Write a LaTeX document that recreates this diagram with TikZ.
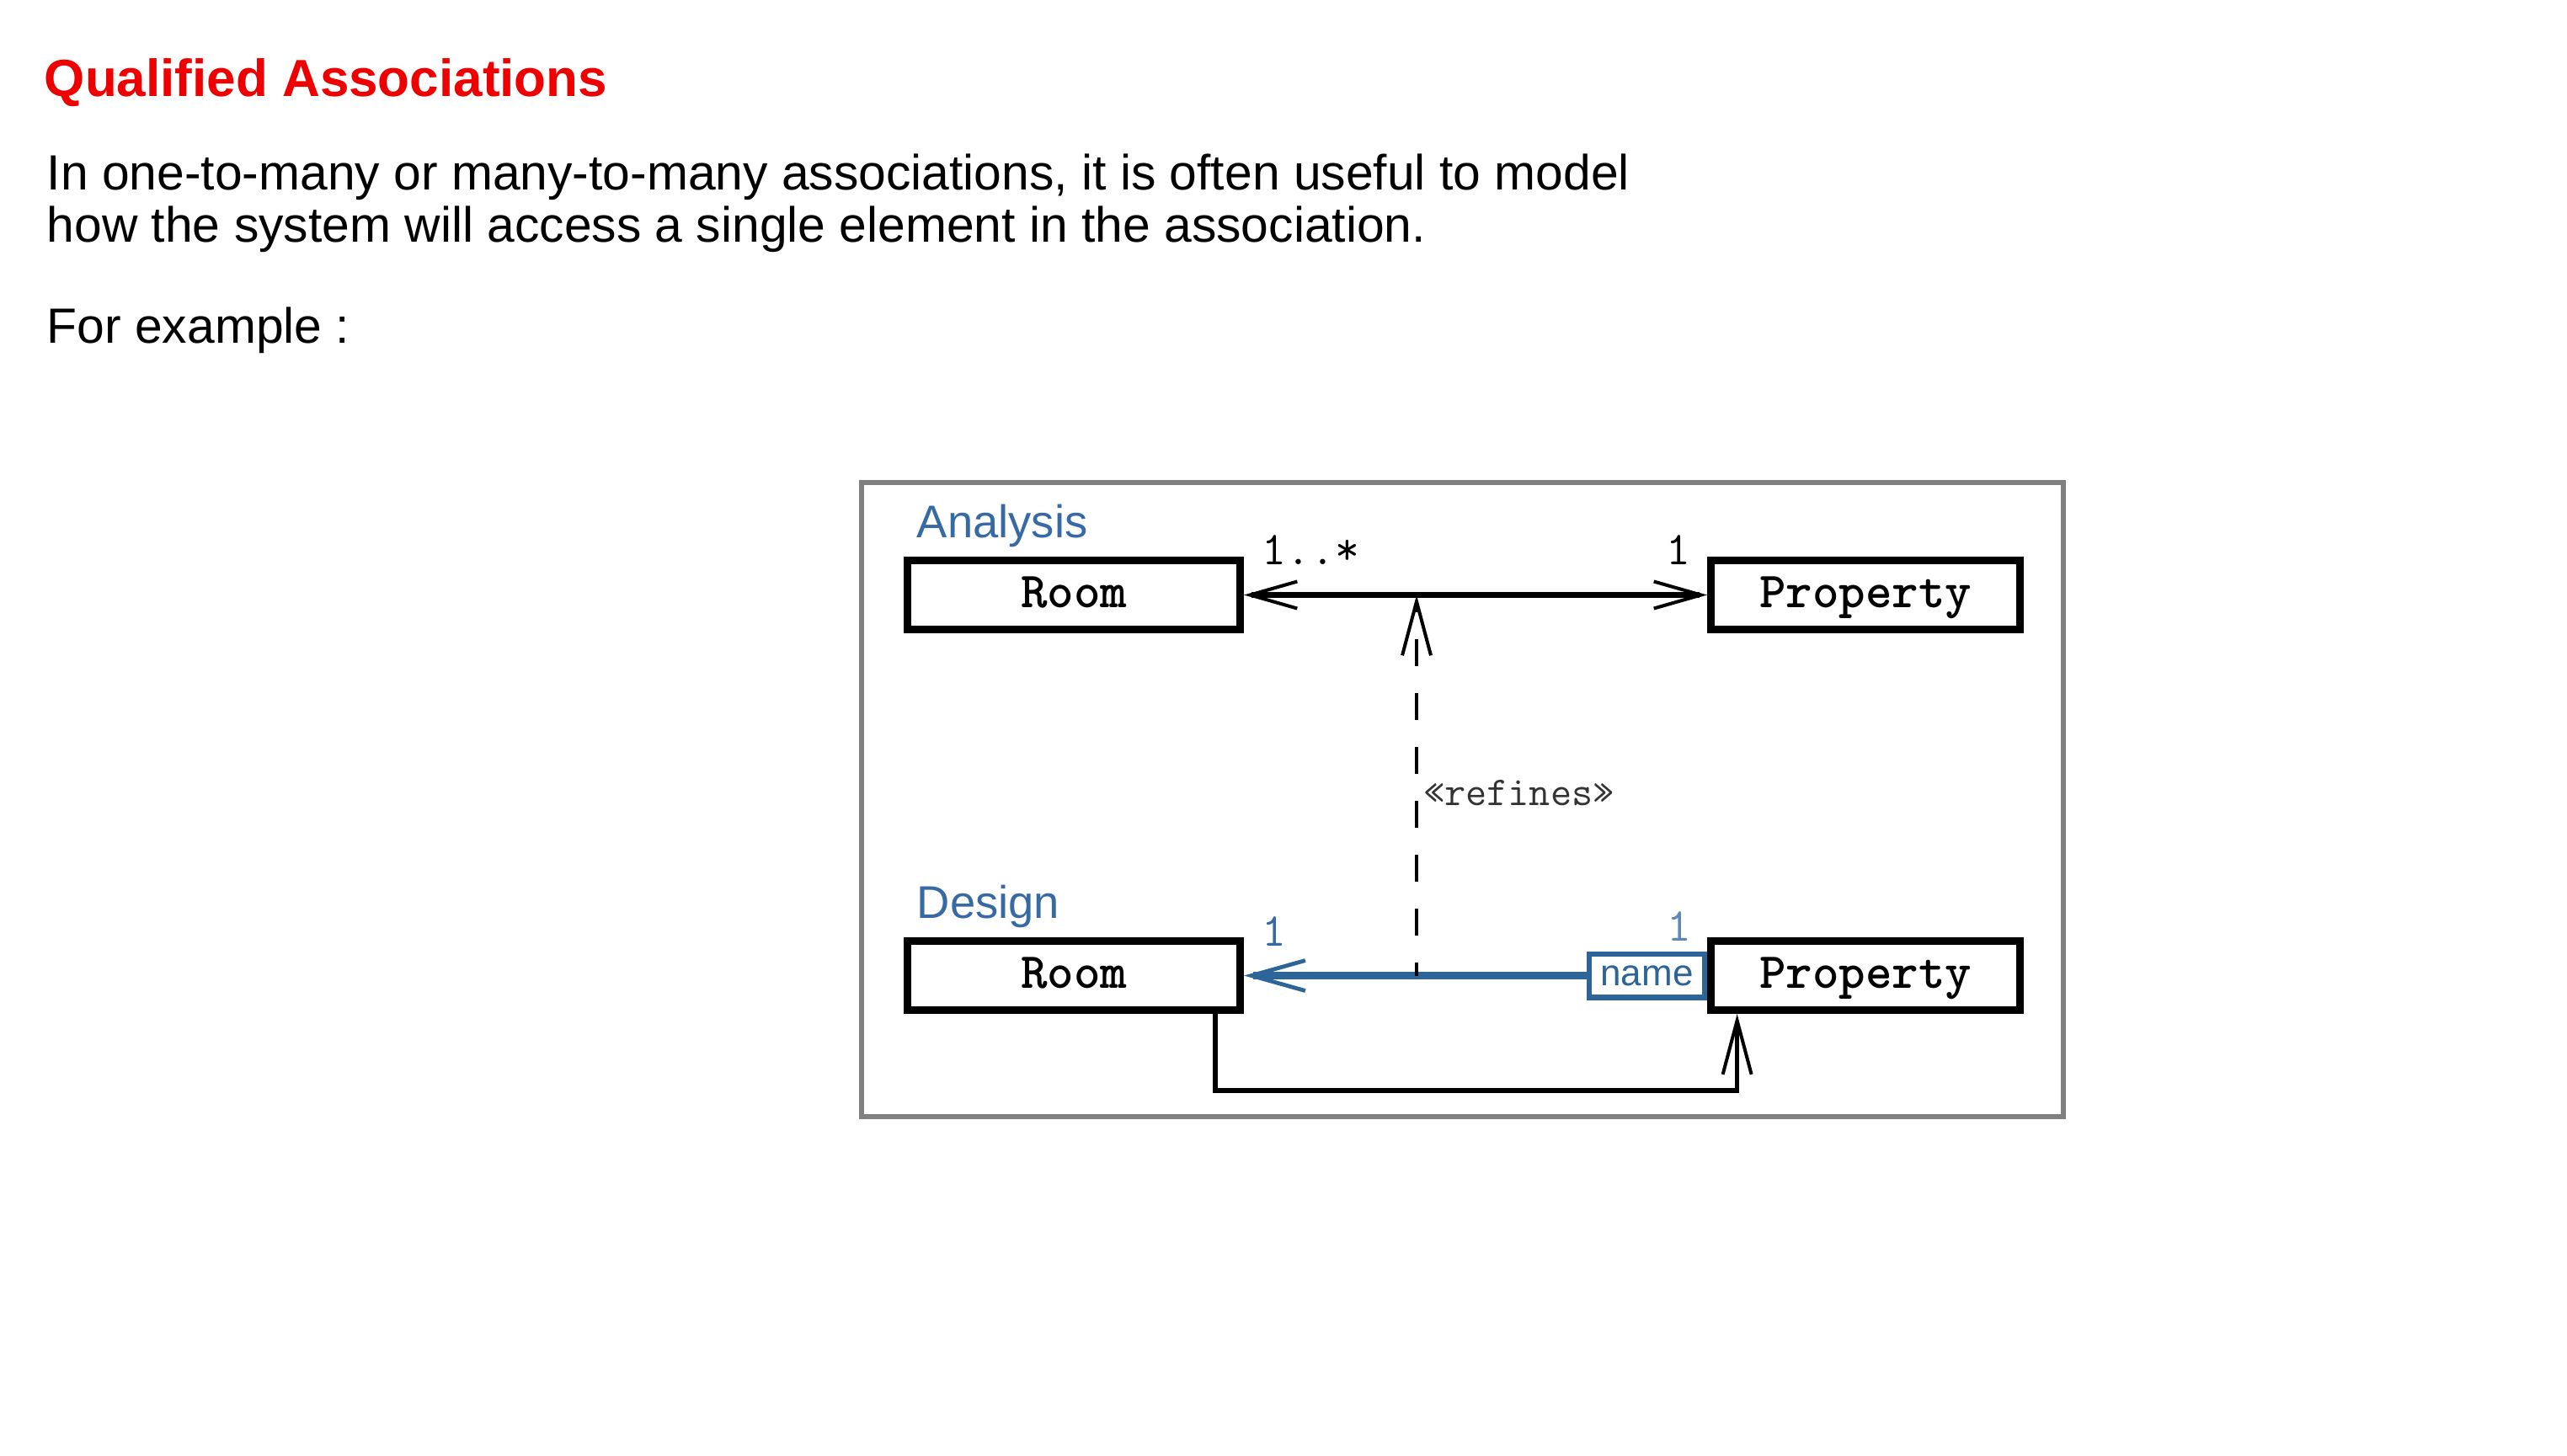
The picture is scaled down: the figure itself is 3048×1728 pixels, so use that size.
\documentclass[tikz,border=0pt]{standalone}
\usepackage{fontspec}
\setmainfont{Liberation Sans}
\usetikzlibrary{arrows.meta,positioning}

\definecolor{titlered}{RGB}{238,0,0}
\definecolor{umlblue}{RGB}{55,106,165}
\definecolor{linkblue}{RGB}{46,101,152}
\definecolor{framegray}{RGB}{128,128,128}

\begin{document}
\begin{tikzpicture}[x=0.25pt,y=-0.25pt,
		classbox/.style={draw, line width=2.3pt, minimum height=20.45pt, inner sep=0pt,
			text height=8pt, text depth=0.5pt, font=\fontsize{15}{16}\selectfont\ttfamily\bfseries},
		qualbox/.style={draw=linkblue, line width=1.6pt, minimum width=34.15pt, minimum height=12.9pt,
			inner sep=0pt, text=linkblue, font=\fontsize{11}{12}\selectfont},
		viewname/.style={anchor=base west, inner sep=0pt, text=umlblue, font=\fontsize{13.6}{15}\selectfont},
		mult/.style={inner sep=0pt, font=\fontsize{14}{15}\selectfont\ttfamily},
		stereo/.style={inner sep=1.5pt, text=black!80, font=\fontsize{12.2}{13}\selectfont\ttfamily},
		bodytext/.style={anchor=base west, inner sep=0pt, font=\fontsize{14.7}{16}\selectfont},
		assoc/.style={line width=1.6pt, >={Straight Barb[length=14pt,width=8pt,line width=1pt]}, <->},
		qualink/.style={draw=linkblue, line width=2.4pt, >={Straight Barb[length=16pt,width=9pt,line width=1.2pt]}, ->},
		refines/.style={line width=1.1pt, dash pattern=on 8pt off 8pt, dash phase=4pt,
			>={Straight Barb[length=16pt,width=8.5pt,line width=1pt]}, ->},
		navlink/.style={line width=1.4pt, >={Straight Barb[length=16pt,width=8.5pt,line width=1pt]}, ->}]
	\useasboundingbox (0,0) rectangle (3048,1728);

	% heading and text
	\node[anchor=base west, inner sep=0pt, text=titlered, font=\fontsize{15.5}{18}\selectfont\bfseries]
		(title) at (52,114) {Qualified Associations};
	\node[bodytext] (intro1) at (55,225) {In one-to-many or many-to-many associations, it is often useful to model};
	\node[bodytext] (intro2) at (55,287) {how the system will access a single element in the association.};
	\node[bodytext] (example) at (55,407) {For example :};

	% frame
	\draw[framegray, line width=1.4pt] (1023,573) rectangle (2450,1326);

	% classes
	\node[classbox, minimum width=98.7pt] (roomA) at (1275,706.5) {Room};
	\node[classbox, minimum width=91.7pt] (propA) [right=137.5pt of roomA] {Property};
	\node[classbox, minimum width=98.7pt] (roomD) [below=90.25pt of roomA] {Room};
	\node[classbox, minimum width=91.7pt] (propD) [right=137.5pt of roomD] {Property};
	\node[qualbox] (qual) [left=0pt of propD] {name};

	\node[viewname] (analysis) at ([xshift=3.75pt,yshift=5.75pt]roomA.north west) {Analysis};
	\node[viewname] (design) at ([xshift=3.75pt,yshift=5.75pt]roomD.north west) {Design};

	\node[mult, anchor=base west] (mRoomA) at ([xshift=5.25pt,yshift=-2.25pt]roomA.north east) {1..*};
	\node[mult, anchor=base east] (mPropA) at ([xshift=-4.75pt,yshift=-2.25pt]propA.north west) {1};
	\node[mult, anchor=base west, text=umlblue] (mRoomD) at ([xshift=5.25pt,yshift=-2.5pt]roomD.north east) {1};
	\node[mult, anchor=base east, text=umlblue!80] (mPropD) at ([xshift=-4.5pt,yshift=-1pt]propD.north west) {1};

	% associations
	\draw[assoc] (roomA) -- (propA);
	\draw[qualink] (qual) -- (roomD);
	\draw[navlink] ([xshift=42pt]roomD.south) -- ++(0,91) -| ([xshift=-38.1pt]propD.south);

	\coordinate (refD) at ([xshift=51.25pt]roomD.east);
	\coordinate (refA) at ([xshift=51.25pt]roomA.east);
	\draw[refines] (refD) -- node[stereo, pos=0.48, right] {«refines»} (refA);
\end{tikzpicture}
\end{document}
